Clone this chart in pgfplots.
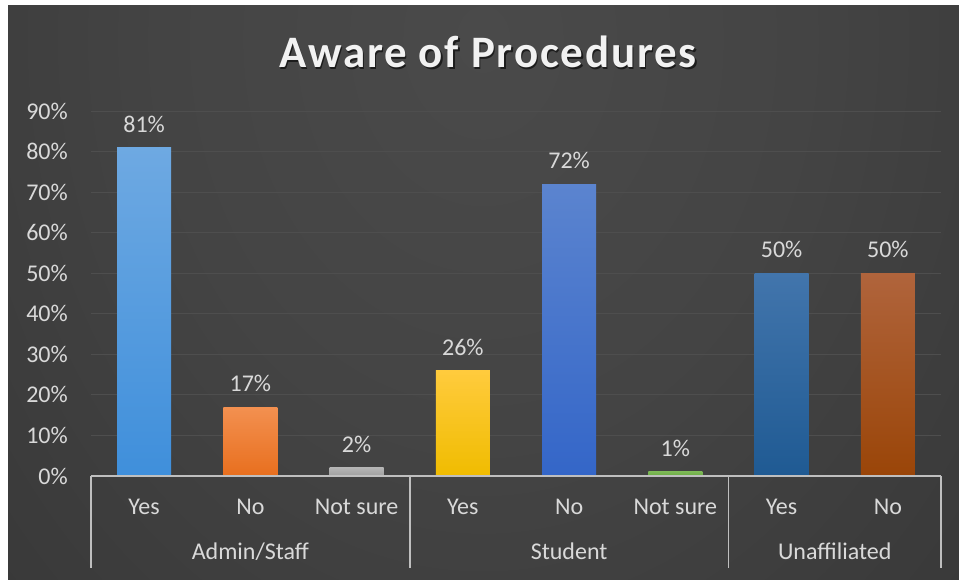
\documentclass[border=0pt]{standalone}
\usepackage{fontspec}
\setmainfont{Carlito}
\newfontfamily\titlefont[LetterSpace=4]{Carlito}
\usepackage{pgfplots}
\pgfplotsset{compat=1.18}

\definecolor{bgA}{HTML}{4A4A4A}
\definecolor{bgB}{HTML}{444444}
\definecolor{bgC}{HTML}{333333}
\definecolor{bgD}{HTML}{262626}
\definecolor{lbl}{HTML}{D9D9D9}
\definecolor{gridc}{HTML}{4E4E4E}
\definecolor{axisc}{HTML}{BFBFBF}
\definecolor{cAt}{HTML}{6EA9E2}\definecolor{cAb}{HTML}{3F8FDB}
\definecolor{cBt}{HTML}{F39050}\definecolor{cBb}{HTML}{E86F1E}
\definecolor{cCt}{HTML}{B4B4B4}\definecolor{cCb}{HTML}{A0A0A0}
\definecolor{cDt}{HTML}{FFCB3D}\definecolor{cDb}{HTML}{F0BC00}
\definecolor{cEt}{HTML}{5B84CF}\definecolor{cEb}{HTML}{3466C8}
\definecolor{cFt}{HTML}{7BB854}\definecolor{cFb}{HTML}{6AAA42}
\definecolor{cGt}{HTML}{4275AC}\definecolor{cGb}{HTML}{1F5A93}
\definecolor{cHt}{HTML}{B0643C}\definecolor{cHb}{HTML}{9A4508}

\pgfdeclareradialshading{bgshade}{\pgfpointorigin}{color(0bp)=(bgA); color(10bp)=(bgB); color(26bp)=(bgC); color(38bp)=(bgD); color(50bp)=(bgD)}

\newcommand{\lblfont}{\fontsize{24}{28}\selectfont}

\pgfplotsset{
  mybar/.style={ybar, bar width=54pt, bar shift=0pt, draw=none,
    nodes near coords={\pgfmathprintnumber{\pgfplotspointmeta}\%},
    every node near coord/.append style={anchor=base, yshift=15.5pt, inner sep=0pt, text=lbl, font=\lblfont}},
}

\begin{document}
\begin{tikzpicture}
\useasboundingbox (0pt,0pt) rectangle (959pt,579pt);
\fill[white] (0pt,0pt) rectangle (959pt,579pt);
\begin{scope}
\clip (8pt,0pt) rectangle (959pt,573pt);
\fill[bgD] (8pt,0pt) rectangle (959pt,573pt);
\shade[shading=bgshade] (483pt,540pt) ellipse (800pt and 1000pt);
\end{scope}
\node[anchor=base, text=black, opacity=0.6, font=\titlefont\fontsize{45}{50}\selectfont\bfseries] at (489.5pt,509.5pt) {Aware of Procedures};
\node[anchor=base, text=white!95!black, font=\titlefont\fontsize{45}{50}\selectfont\bfseries] at (488pt,511pt) {Aware of Procedures};
\begin{axis}[
  at={(91pt,103pt)}, anchor=south west, scale only axis,
  width=850pt, height=365pt,
  xmin=-0.5, xmax=7.5, ymin=0, ymax=90,
  clip=false,
  axis line style={draw=none},
  major tick length=0pt,
  ymajorgrids, major grid style={draw=gridc, line width=1pt},
  ytick={0,10,...,90},
  yticklabel={\pgfmathprintnumber{\tick}\%},
  /pgf/number format/assume math mode=true,
  yticklabel style={anchor=east, inner sep=0pt, xshift=-23pt, text=lbl, font=\lblfont},
  xtick={0,...,7},
  xticklabels={Yes,No,Not sure,Yes,No,Not sure,Yes,No},
  xticklabel style={anchor=base, inner sep=0pt, yshift=-38pt, text=lbl, font=\lblfont},
]
\addplot[mybar, top color=cAt, bottom color=cAb] coordinates {(0,81)};
\addplot[mybar, top color=cBt, bottom color=cBb] coordinates {(1,17)};
\addplot[mybar, top color=cCt, bottom color=cCb] coordinates {(2,2)};
\addplot[mybar, top color=cDt, bottom color=cDb] coordinates {(3,26)};
\addplot[mybar, top color=cEt, bottom color=cEb] coordinates {(4,72)};
\addplot[mybar, top color=cFt, bottom color=cFb] coordinates {(5,1)};
\addplot[mybar, top color=cGt, bottom color=cGb] coordinates {(6,50)};
\addplot[mybar, top color=cHt, bottom color=cHb] coordinates {(7,50)};
\draw[axisc, line width=1.5pt] (axis cs:-0.5,0) -- (axis cs:7.5,0);
\draw[axisc, line width=1.5pt] (axis cs:-0.5,0) -- ++(0pt,-92pt);
\draw[axisc, line width=1.5pt] (axis cs:2.5,0) -- ++(0pt,-92pt);
\draw[axisc, line width=1.5pt] (axis cs:5.5,0) -- ++(0pt,-92pt);
\draw[axisc, line width=1.5pt] (axis cs:7.5,0) -- ++(0pt,-92pt);
\node[anchor=base, inner sep=0pt, text=lbl, font=\lblfont] at ([yshift=-83pt]axis cs:1,0) {Admin/Staff};
\node[anchor=base, inner sep=0pt, text=lbl, font=\lblfont] at ([yshift=-83pt]axis cs:4,0) {Student};
\node[anchor=base, inner sep=0pt, text=lbl, font=\lblfont] at ([yshift=-83pt]axis cs:6.5,0) {Unaffiliated};
\end{axis}
\end{tikzpicture}
\end{document}
